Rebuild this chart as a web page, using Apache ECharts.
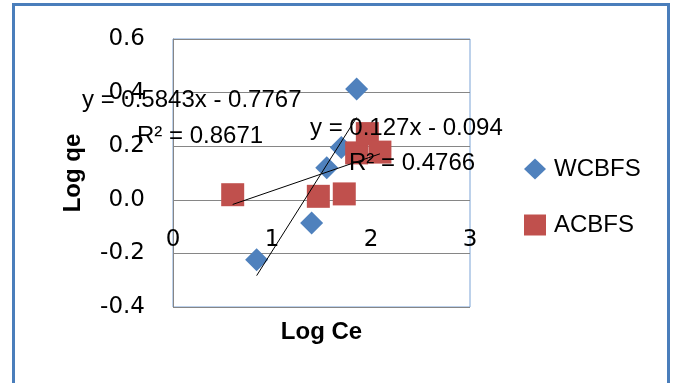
<!DOCTYPE html>
<html><head><meta charset="utf-8">
<script src="https://cdn.jsdelivr.net/npm/echarts@6/dist/echarts.min.js"></script>
<style>html,body{margin:0;padding:0;background:#fff}#c{width:673px;height:383px}</style>
</head><body><div id="c"></div>
<script>
const seriesNames = ['WCBFS', 'ACBFS'];
const wcbfsX = [0.845, 1.40, 1.553, 1.70, 1.855];
const wcbfsY = [-0.224, -0.087, 0.120, 0.195, 0.413];
const acbfsX = [0.603, 1.468, 1.730, 1.855, 1.963, 2.090];
const acbfsY = [0.019, 0.013, 0.022, 0.175, 0.247, 0.178];
const trendSlope = [0.5843, 0.127];
const trendIntercept = [-0.7767, -0.094];
const trendEquations = ['y = 0.5843x - 0.7767', 'y = 0.127x - 0.094'];
const trendR2 = ['R² = 0.8671', 'R² = 0.4766'];
const xAxisRange = [0, 3, 1];
const yAxisRange = [-0.4, 0.6, 0.2];

const pts = (xs, ys) => xs.map((x, i) => [x, ys[i]]);
const trend = (xs, k) => {
  const a = Math.min(...xs), b = Math.max(...xs);
  return [[a, trendSlope[k] * a + trendIntercept[k]], [b, trendSlope[k] * b + trendIntercept[k]]];
};

const chart = echarts.init(document.getElementById('c'));
const txt = (s, x, y) => ({
  type: 'text', x: x, y: y, z: 100,
  style: { text: s, fill: '#000', font: '24px "Liberation Sans"', textVerticalAlign: 'middle' }
});
chart.setOption({
  animation: false,
  grid: { left: 173, right: 203, top: 39, bottom: 76, show: true, borderColor: '#7aa3d6', borderWidth: 1,
    containLabel: false, outerBoundsMode: 'none' },
  xAxis: {
    type: 'value', min: xAxisRange[0], max: xAxisRange[1], interval: xAxisRange[2],
    position: 'bottom', offset: -107.5,
    name: 'Log Ce', nameLocation: 'middle', nameGap: 121,
    nameTextStyle: { fontFamily: 'Liberation Sans', fontWeight: 'bold', fontSize: 24, color: '#000' },
    axisLine: { show: false, onZero: false },
    axisTick: { show: false },
    splitLine: { show: false },
    axisLabel: { margin: 29, fontFamily: 'DejaVu Sans', fontSize: 23, color: '#000' }
  },
  yAxis: {
    type: 'value', min: yAxisRange[0], max: yAxisRange[1], interval: yAxisRange[2],
    name: 'Log qe', nameLocation: 'middle', nameGap: 88,
    nameTextStyle: { fontFamily: 'Liberation Sans', fontWeight: 'bold', fontSize: 24, color: '#000' },
    axisLine: { show: true, lineStyle: { color: '#868686', width: 1 } },
    axisTick: { show: false },
    splitLine: { lineStyle: { color: '#868686', width: 1 } },
    axisLabel: { margin: 28, fontFamily: 'DejaVu Sans', fontSize: 23, color: '#000',
      formatter: v => v.toFixed(1) }
  },
  legend: {
    orient: 'vertical', left: 519, top: 152, itemWidth: 22, itemHeight: 21, itemGap: 32,
    textStyle: { fontFamily: 'Liberation Sans', fontSize: 24, color: '#000', padding: [0, 0, 0, 3] },
    data: [{ name: seriesNames[0], icon: 'diamond' }, { name: seriesNames[1], icon: 'rect' }]
  },
  series: [
    { name: seriesNames[0], type: 'scatter', symbol: 'diamond', symbolSize: 23,
      itemStyle: { color: '#4F81BD', opacity: 1 }, data: pts(wcbfsX, wcbfsY), z: 2 },
    { name: seriesNames[1], type: 'scatter', symbol: 'rect', symbolSize: 23,
      itemStyle: { color: '#C0504D', opacity: 1 }, data: pts(acbfsX, acbfsY), z: 3 },
    { type: 'line', data: trend(wcbfsX, 0), symbol: 'none', lineStyle: { color: '#000', width: 1 }, z: 4, silent: true },
    { type: 'line', data: trend(acbfsX, 1), symbol: 'none', lineStyle: { color: '#000', width: 1 }, z: 4, silent: true }
  ],
  graphic: [
    { type: 'rect', shape: { x: 13.5, y: 4.5, width: 655, height: 420 }, style: { fill: 'none', stroke: '#4A7EBB', lineWidth: 3 }, z: 100 },
    txt(trendEquations[0], 82, 100),
    txt(trendR2[0], 137, 136),
    txt(trendEquations[1], 310, 128),
    txt(trendR2[1], 349, 163)
  ]
});
</script></body></html>
